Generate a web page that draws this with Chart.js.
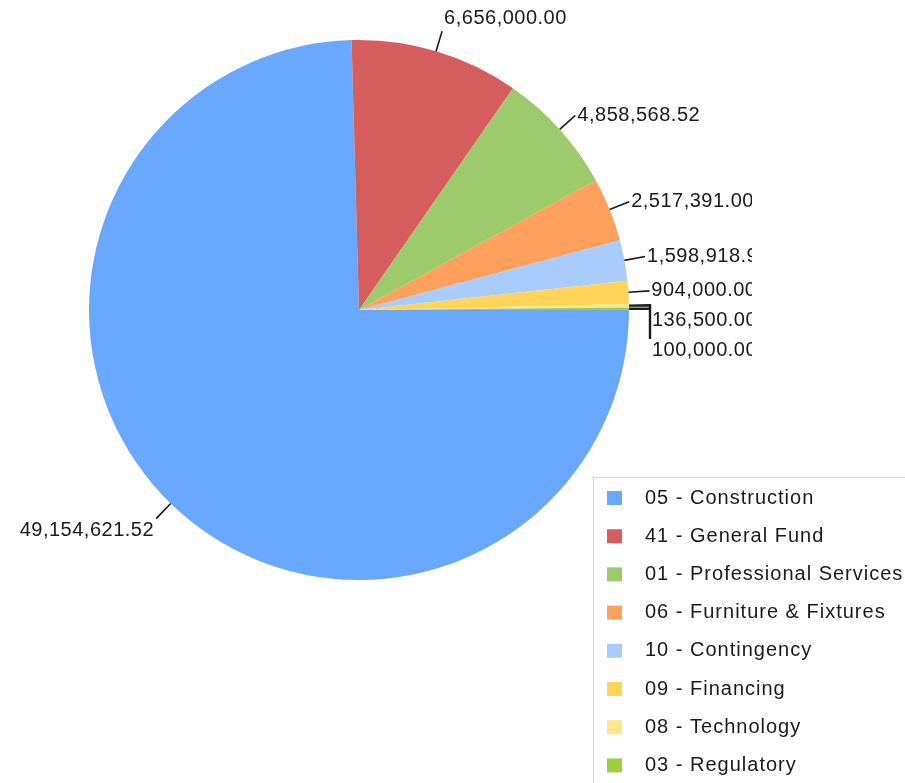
<!DOCTYPE html>
<html>
<head>
<meta charset="utf-8">
<script src="https://cdn.jsdelivr.net/npm/chart.js@4"></script>
<style>
    html, body { margin: 0; padding: 0; background: #fff; }
    #wrap { width: 905px; height: 783px; position: relative; }
</style>
</head>
<body>
<div id="wrap"><canvas id="pieChart"></canvas></div>
<script>
// data
const categories = [
    '05 - Construction',
    '41 - General Fund',
    '01 - Professional Services',
    '06 - Furniture & Fixtures',
    '10 - Contingency',
    '09 - Financing',
    '08 - Technology',
    '03 - Regulatory'
];
const amounts = [49154621.52, 6656000.00, 4858568.52, 2517391.00, 1598918.90, 904000.00, 136500.00, 100000.00];
const sliceColors = ['#68a8ff', '#d65d5d', '#9dca6a', '#ffa15c', '#a9ccff', '#ffd458', '#ffe88c', '#9fce42'];

function money(v) {
    return v.toLocaleString('en-US', { minimumFractionDigits: 2, maximumFractionDigits: 2 });
}

// labels outside the pie with leader lines
const outsideLabels = {
    id: 'outsideLabels',
    afterDatasetsDraw(chart) {
        const ctx = chart.ctx;
        const arcs = chart.getDatasetMeta(0).data;
        const items = arcs.map((arc, i) => {
            const mid = (arc.startAngle + arc.endAngle) / 2;
            const c = Math.cos(mid), s = Math.sin(mid);
            const r = arc.outerRadius;
            const x0 = arc.x + c * r, y0 = arc.y + s * r;
            const x1 = arc.x + c * (r + 21), y1 = arc.y + s * (r + 21);
            let cy = y1;
            if (s < -0.7) cy = y1 - 13;
            else if (s > 0.7) cy = y1 + 12;
            return { i, c, s, x0, y0, x1, y1, natural: cy, cy };
        });

        // push overlapping labels down, per side
        [items.filter(d => d.c >= 0), items.filter(d => d.c < 0)].forEach(side => {
            side.sort((a, b) => a.natural - b.natural);
            for (let k = 1; k < side.length; k++) {
                if (side[k].cy < side[k - 1].cy + 30) side[k].cy = side[k - 1].cy + 30;
            }
        });

        ctx.save();
        ctx.strokeStyle = '#1a1a1a';
        ctx.lineWidth = 1.6;
        items.forEach(d => {
            const moved = d.cy - d.natural > 1;
            ctx.lineWidth = moved ? 2.4 : 1.6;
            ctx.beginPath();
            ctx.moveTo(d.x0, d.y0);
            ctx.lineTo(d.x1, d.y1);
            if (moved) ctx.lineTo(d.x1, d.cy - 12);
            ctx.stroke();
        });

        ctx.beginPath();
        ctx.rect(0, 0, 752, chart.height);
        ctx.clip();
        ctx.font = '20px "Liberation Sans", Arial, sans-serif';
        if ('letterSpacing' in ctx) ctx.letterSpacing = '0.5px';
        ctx.fillStyle = '#1a1a1a';
        ctx.textBaseline = 'middle';
        items.forEach(d => {
            const right = d.c >= 0;
            ctx.textAlign = right ? 'left' : 'right';
            ctx.fillText(money(amounts[d.i]), right ? d.x1 + 2 : d.x1 - 2, d.cy);
        });
        ctx.restore();
    }
};

// boxed legend in the lower right corner
const boxLegend = {
    id: 'boxLegend',
    afterDraw(chart) {
        const ctx = chart.ctx;
        const left = 593, top = 477;
        ctx.save();
        ctx.strokeStyle = '#d4d4d4';
        ctx.lineWidth = 1;
        ctx.strokeRect(left + 0.5, top + 0.5, 400, 400);
        ctx.font = '20px "Liberation Sans", Arial, sans-serif';
        if ('letterSpacing' in ctx) ctx.letterSpacing = '1px';
        ctx.textBaseline = 'middle';
        ctx.textAlign = 'left';
        categories.forEach((name, i) => {
            const y = top + 21 + i * 38.2;
            ctx.fillStyle = chart.data.datasets[0].backgroundColor[i];
            ctx.fillRect(607, y - 7, 15, 14);
            ctx.fillStyle = '#1a1a1a';
            ctx.fillText(name, 645, y);
        });
        ctx.restore();
    }
};

document.addEventListener('DOMContentLoaded', function () {
    const pieCtx = document.getElementById('pieChart').getContext('2d');

    const pieChart = new Chart(pieCtx, {
        type: 'pie',
        data: {
            labels: categories,
            datasets: [{
                data: amounts,
                backgroundColor: sliceColors,
                borderWidth: 0
            }]
        },
        options: {
            responsive: true,
            maintainAspectRatio: false,
            animation: false,
            rotation: 90,
            layout: {
                padding: { left: 89, top: 40, right: 276, bottom: 203 }
            },
            plugins: {
                legend: { display: false },
                tooltip: { enabled: false }
            }
        },
        plugins: [outsideLabels, boxLegend]
    });
});
</script>
</body>
</html>
